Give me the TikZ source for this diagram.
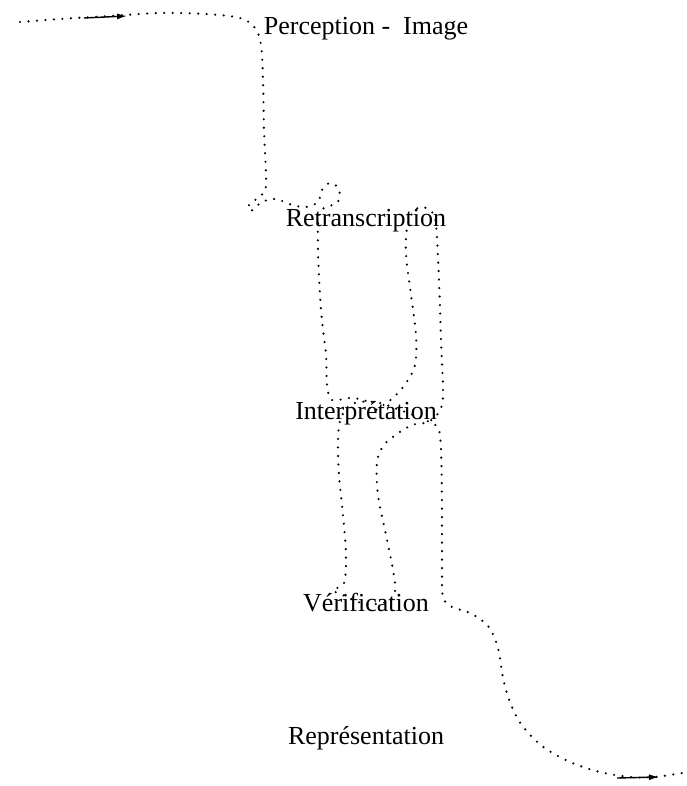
\documentclass[tikz,border=0pt]{standalone}
\usepackage{fontspec}
\setmainfont{Liberation Serif}
\usetikzlibrary{arrows.meta}
\begin{document}
\begin{tikzpicture}[x=1pt,y=-1pt,
  lbl/.style={anchor=base,inner sep=0pt,font=\fontsize{26}{30}\selectfont},
  dotline/.style={line width=2.4pt,line cap=round,dash pattern=on 0pt off 8.5pt},
  arrowseg/.style={line width=1.4pt,-{Latex[length=10pt,width=6pt]}}]
\useasboundingbox (0,0) rectangle (687,786);
\node[lbl] (perc) at (366,35) {Perception - \ Image};
\node[lbl] (retr) at (366,226) {Retranscription};
\node[lbl] (interp) at (366,419) {Interprétation};
\node[lbl] (verif) at (366,611) {Vérification};
\node[lbl] (repr) at (366,744) {Représentation};
% the path of the process
\draw[dotline] plot[smooth,tension=0.55] coordinates {
 (20,22) (60,19) (110,16) (160,13) (205,14) (240,18) (255,28) (261,45)
 (263,80) (264,130) (266,185)
 (260,196) (249,205) (251,211) (262,202) (276,199) (292,205) (306,207)
 (318,202) (322,190) (330,183) (339,189) (338,202) (327,207) (319,214)
 (318,250) (321,310) (326,355) (327,385)
 (332,400) (350,398) (366,401) (372,411) (382,406) (394,397) (406,383)
 (415,365) (416,335) (411,295) (406,255) (407,228) (413,212)
 (422,207) (432,212) (436,225) (439,280) (441,340) (443,395)
 (439,412) (428,422) (412,425) (397,434) (384,445) (377,462)
 (378,495) (386,535) (393,570) (395,592)
 (386,602) (365,604) (345,596) (333,590) (344,583) (346,555)
 (343,515) (339,475) (338,440) (341,418)
 (352,404) (375,402) (400,410) (425,420) (438,428)
 (441,450) (442,510) (442,570) (443,597)
 (452,607) (470,613) (488,626) (498,648) (503,678) (510,702)
 (521,724) (542,746) (570,762) (600,772) (630,777) (655,777) (682,773)
};
\draw[arrowseg] (84,18) -- (127,16);
\draw[arrowseg] (617,778) -- (659,777);
\end{tikzpicture}
\end{document}
